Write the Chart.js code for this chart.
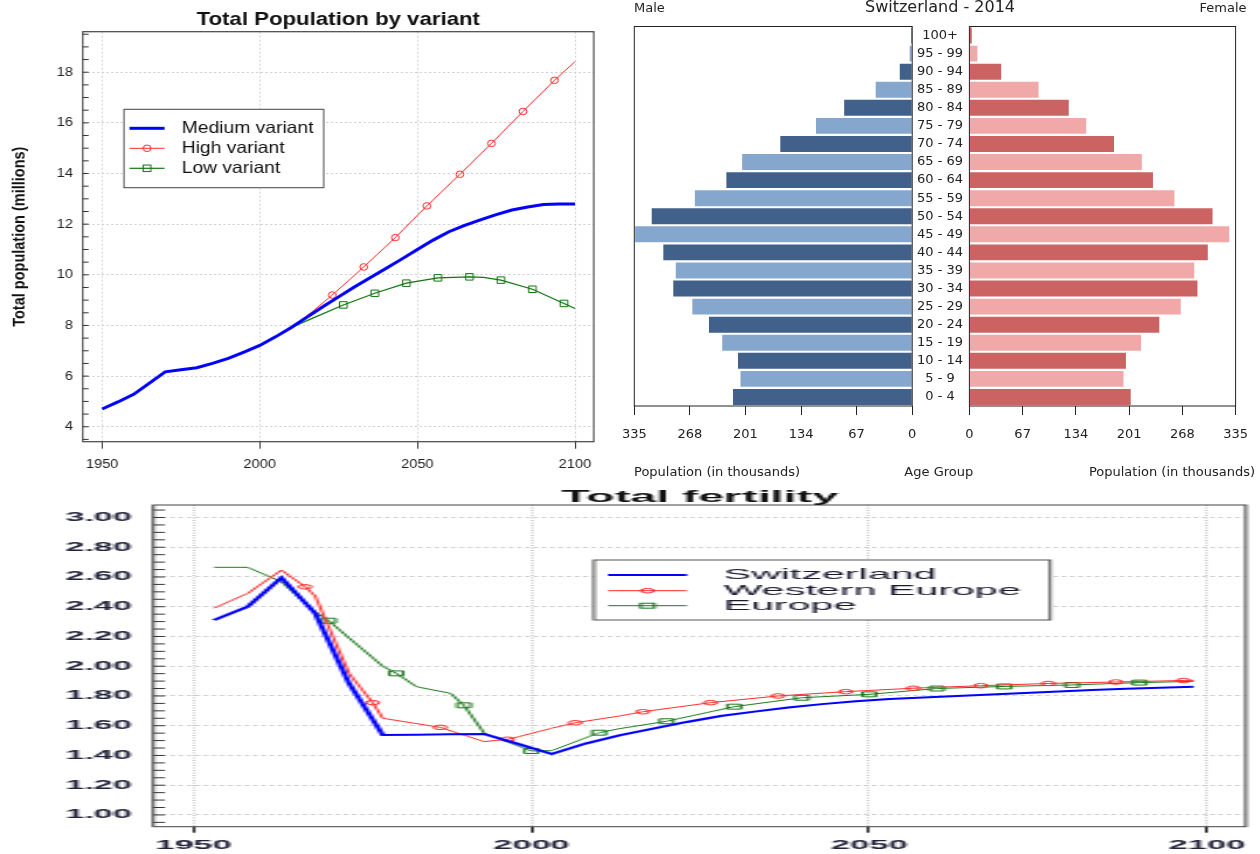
<!DOCTYPE html>
<html>
<head>
<meta charset="utf-8">
<title>Switzerland - population, age structure, fertility</title>
<script src="https://cdn.jsdelivr.net/npm/chart.js@4.4.1/dist/chart.umd.min.js"></script>
<style>
  html, body { margin: 0; padding: 0; background: #fff; }
  #page { position: relative; width: 1260px; height: 854px; overflow: hidden; }
  canvas { position: absolute; top: 0; left: 0; transform-origin: 0 0; }
  /* the source pictures are stretched sideways, so are these */
  #popChart { transform: scaleX(1.1686); }
  #maleChart { left: 620px; }
  #femaleChart { left: 840px; }
  #tfrChart { top: 480px; transform: scaleX(2.7511); }
</style>
</head>
<body>
<div id="page">
  <canvas id="popChart" width="522" height="480"></canvas>
  <canvas id="maleChart" width="320" height="480"></canvas>
  <canvas id="femaleChart" width="420" height="480"></canvas>
  <canvas id="tfrChart" width="458" height="374"></canvas>
</div>
<script>
/* ================================
   Data: total population (millions)
================================ */
const popXTicks = [1950, 2000, 2050, 2100];
const popYTicks = [4, 6, 8, 10, 12, 14, 16, 18];

const medYears = [1950, 1955, 1960, 1965, 1970, 1975, 1980, 1985, 1990, 1995, 2000, 2005, 2010,
  2015, 2020, 2025, 2030, 2035, 2040, 2045, 2050, 2055, 2060, 2065, 2070, 2075, 2080, 2085, 2090, 2095, 2100];
const medPop = [4.70, 4.98, 5.28, 5.72, 6.17, 6.25, 6.33, 6.50, 6.70, 6.95, 7.21, 7.55, 7.92,
  8.33, 8.74, 9.13, 9.52, 9.88, 10.25, 10.62, 11.00, 11.37, 11.70, 11.95, 12.17, 12.38, 12.56, 12.68, 12.78, 12.80, 12.80];

const highYears = [2010, 2017, 2023, 2033, 2043, 2053, 2063.5, 2073.5, 2083.5, 2093.5, 2100];
const highPop = [7.92, 8.58, 9.20, 10.31, 11.47, 12.72, 13.97, 15.19, 16.45, 17.68, 18.42];
const highMarks = [2023, 2033, 2043, 2053, 2063.5, 2073.5, 2083.5, 2093.5];

const lowYears = [2010, 2017, 2026.5, 2036.5, 2046.5, 2056.5, 2066.5, 2071, 2076.5, 2086.5, 2096.5, 2100];
const lowPop = [7.92, 8.30, 8.81, 9.27, 9.67, 9.88, 9.92, 9.90, 9.79, 9.43, 8.87, 8.67];
const lowMarks = [2026.5, 2036.5, 2046.5, 2056.5, 2066.5, 2076.5, 2086.5, 2096.5];

/* ================================
   Data: age pyramid 2014 (thousands)
================================ */
const ageGroups = ['0 - 4', '5 - 9', '10 - 14', '15 - 19', '20 - 24', '25 - 29', '30 - 34', '35 - 39',
  '40 - 44', '45 - 49', '50 - 54', '55 - 59', '60 - 64', '65 - 69', '70 - 74', '75 - 79', '80 - 84',
  '85 - 89', '90 - 94', '95 - 99', '100+'];
const maleK = [216, 207, 210, 229, 245, 265, 288, 285, 300, 334, 314, 262, 224, 205, 159, 116, 82, 44, 15, 3, 1.4];
const femaleK = [203, 194, 197, 216, 239, 266, 287, 283, 300, 327, 306, 258, 231, 217, 182, 147, 125, 87, 40, 10, 3];
const pyrTicks = [0, 67, 134, 201, 268, 335];

/* ================================
   Data: total fertility
================================ */
const tfrXTicks = [1950, 2000, 2050, 2100];
const tfrYTicks = [1.0, 1.2, 1.4, 1.6, 1.8, 2.0, 2.2, 2.4, 2.6, 2.8, 3.0];

const swissYears = [1953, 1958, 1963, 1968, 1973, 1978, 1983, 1988, 1993, 1998, 2003, 2008, 2013, 2018, 2023,
  2028, 2033, 2038, 2043, 2048, 2053, 2058, 2063, 2068, 2073, 2078, 2083, 2088, 2093, 2098];
const swissTfr = [2.31, 2.40, 2.595, 2.355, 1.885, 1.538, 1.54, 1.542, 1.545, 1.478, 1.41, 1.48, 1.535, 1.58, 1.625,
  1.665, 1.695, 1.722, 1.745, 1.765, 1.78, 1.79, 1.80, 1.81, 1.82, 1.83, 1.84, 1.848, 1.855, 1.862];

const westYears = [1953, 1958, 1963, 1966.5, 1968, 1973, 1976.5, 1978, 1986.5, 1993, 1996.5, 1998, 2003, 2006.5,
  2013, 2016.5, 2026.5, 2036.5, 2046.5, 2056.5, 2066.5, 2076.5, 2086.5, 2096.5, 2098];
const westTfr = [2.39, 2.49, 2.646, 2.534, 2.472, 1.952, 1.755, 1.65, 1.589, 1.493, 1.509, 1.525, 1.583, 1.62,
  1.665, 1.694, 1.755, 1.80, 1.829, 1.852, 1.869, 1.884, 1.894, 1.904, 1.905];
const westMarks = [1966.5, 1976.5, 1986.5, 1996.5, 2006.5, 2016.5, 2026.5, 2036.5, 2046.5, 2056.5, 2066.5,
  2076.5, 2086.5, 2096.5];

const euroYears = [1953, 1958, 1963, 1968, 1970, 1973, 1978, 1980, 1983, 1988, 1990, 1993, 2000, 2003, 2010,
  2013, 2020, 2030, 2040, 2050, 2060, 2070, 2080, 2090, 2098];
const euroTfr = [2.665, 2.665, 2.568, 2.365, 2.306, 2.19, 2.0, 1.952, 1.862, 1.818, 1.737, 1.55, 1.43, 1.432, 1.553,
  1.58, 1.63, 1.728, 1.788, 1.811, 1.85, 1.864, 1.874, 1.89, 1.898];
const euroMarks = [1970, 1980, 1990, 2000, 2010, 2020, 2030, 2040, 2050, 2060, 2070, 2080, 2090];

/* ================================
   Helpers
================================ */
const pairs = (xs, ys) => xs.map((x, i) => ({ x, y: ys[i] }));
const markAt = (marks, r) => c => (c.raw && marks.includes(c.raw.x) ? r : 0);
const steps = (from, to, step) => {
  const out = [];
  for (let i = 0; from + i * step <= to + 1e-9; i++) out.push(Math.round((from + i * step) * 100) / 100);
  return out;
};
const isMajor = (list, v) => list.some(t => Math.abs(t - v) < 1e-6);

Chart.defaults.font.family = "'Liberation Sans', Arial, sans-serif";
Chart.defaults.color = '#222';

/* ================================
   Plugins: frame, inner ticks, texts, boxed legend
================================ */
Chart.register({
  id: 'frame',
  afterDraw(chart, args, o) {
    if (!o.color) return;
    const { ctx, chartArea: a } = chart;
    ctx.save();
    ctx.strokeStyle = o.color;
    ctx.lineWidth = o.width || 1;
    ctx.strokeRect(a.left, a.top, a.right - a.left, a.bottom - a.top);
    ctx.restore();
  }
});

Chart.register({
  id: 'innerTicks',
  afterDraw(chart, args, o) {
    if (!o.len) return;
    const { ctx, chartArea: a } = chart;
    const s = chart.scales.y;
    ctx.save();
    ctx.strokeStyle = o.color;
    ctx.lineWidth = 1;
    ctx.beginPath();
    s.ticks.forEach(t => {
      const y = s.getPixelForValue(t.value);
      ctx.moveTo(a.left, y);
      ctx.lineTo(a.left + o.len, y);
    });
    ctx.stroke();
    ctx.restore();
  }
});

Chart.register({
  id: 'extraText',
  afterDraw(chart, args, o) {
    if (!o.items) return;
    const { ctx, chartArea: a } = chart;
    o.items.forEach(t => {
      ctx.save();
      ctx.font = t.font;
      ctx.fillStyle = t.color || '#222';
      ctx.textAlign = t.align || 'left';
      ctx.textBaseline = t.baseline || 'middle';
      const x = t.x === 'mid' ? (a.left + a.right) / 2 : t.x;
      ctx.fillText(t.text, x, t.y);
      ctx.restore();
    });
  }
});

Chart.register({
  id: 'boxLegend',
  afterDraw(chart, args, o) {
    if (!o.box) return;
    const ctx = chart.ctx;
    const [x1, y1, x2, y2] = o.box;
    ctx.save();
    ctx.fillStyle = '#fff';
    ctx.fillRect(x1, y1, x2 - x1, y2 - y1);
    ctx.strokeStyle = o.border;
    ctx.lineWidth = 1;
    ctx.strokeRect(x1, y1, x2 - x1, y2 - y1);
    ctx.font = o.font;
    ctx.textBaseline = 'middle';
    ctx.textAlign = 'left';
    chart.data.datasets.forEach((ds, i) => {
      const y = o.rows[i];
      const mx = (o.line[0] + o.line[1]) / 2;
      ctx.strokeStyle = ds.borderColor;
      ctx.lineWidth = ds.borderWidth;
      ctx.beginPath();
      ctx.moveTo(o.line[0], y);
      ctx.lineTo(o.line[1], y);
      ctx.stroke();
      ctx.lineWidth = 1;
      if (ds.pointStyle === 'circle') {
        ctx.beginPath();
        ctx.arc(mx, y, ds.markRadius, 0, Math.PI * 2);
        ctx.stroke();
      } else if (ds.pointStyle === 'rect') {
        const h = ds.markRadius * Math.SQRT1_2;
        ctx.strokeRect(mx - h, y - h, 2 * h, 2 * h);
      }
      ctx.fillStyle = o.color;
      ctx.fillText(ds.label, o.textX, y);
    });
    ctx.restore();
  }
});

/* ================================
   Chart: Total Population by variant
================================ */
new Chart(document.getElementById('popChart'), {
  type: 'line',
  data: {
    datasets: [{
      label: 'Medium variant',
      data: pairs(medYears, medPop),
      borderColor: '#0000ff',
      borderWidth: 3,
      pointRadius: 0
    }, {
      label: 'High variant',
      data: pairs(highYears, highPop),
      borderColor: '#ff2a2a',
      borderWidth: 1,
      pointStyle: 'circle',
      markRadius: 3.3,
      pointRadius: markAt(highMarks, 3.3),
      pointBorderColor: '#ff2a2a',
      pointBackgroundColor: 'rgba(0,0,0,0)',
      pointBorderWidth: 1
    }, {
      label: 'Low variant',
      data: pairs(lowYears, lowPop),
      borderColor: '#137513',
      borderWidth: 1.2,
      pointStyle: 'rect',
      markRadius: 4.6,
      pointRadius: markAt(lowMarks, 4.6),
      pointBorderColor: '#137513',
      pointBackgroundColor: 'rgba(0,0,0,0)',
      pointBorderWidth: 1
    }]
  },
  options: {
    responsive: false,
    animation: false,
    devicePixelRatio: 1,
    events: [],
    layout: { padding: { top: 31.7, right: 13.9, left: 0, bottom: 0 } },
    scales: {
      x: {
        type: 'linear',
        min: 1943.85,
        max: 2105.96,
        afterBuildTicks: s => { s.ticks = popXTicks.map(v => ({ value: v })); },
        afterFit: s => { s.height = 38.3; },
        ticks: { padding: 8.8, color: '#222', font: { size: 12.5 }, autoSkip: false, maxRotation: 0, callback: v => String(v) },
        grid: { color: '#d2d2d2', tickColor: '#333', tickLength: 7, tickBorderDash: [] },
        border: { display: false, dash: [2, 2] }
      },
      y: {
        type: 'linear',
        min: 3.41,
        max: 19.6,
        afterBuildTicks: s => { s.ticks = steps(3.5, 19.5, 0.5).map(v => ({ value: v })); },
        afterFit: s => { s.width = 70.8; },
        ticks: { padding: 8.4, color: '#222', font: { size: 12.5 }, autoSkip: false, callback: v => (popYTicks.includes(v) ? String(v) : '') },
        grid: { drawTicks: false, color: c => (c.tick && popYTicks.includes(c.tick.value) ? '#d2d2d2' : 'rgba(0,0,0,0)') },
        border: { display: false, dash: [2, 2] },
        title: {
          display: true,
          text: 'Total population (millions)',
          color: '#111',
          font: { size: 14.5, weight: 'bold' },
          padding: { top: 8.7, bottom: 0 }
        }
      }
    },
    plugins: {
      legend: { display: false },
      tooltip: { enabled: false },
      frame: { color: '#444', width: 1.2 },
      innerTicks: { len: 5, color: '#333' },
      extraText: {
        items: [{ text: 'Total Population by variant', x: 'mid', y: 25, align: 'center', baseline: 'alphabetic',
          font: "bold 19px 'Liberation Sans', Arial, sans-serif", color: '#111' }]
      },
      boxLegend: {
        box: [106.1, 109.3, 277, 187.7],
        line: [110.8, 140.8],
        rows: [128.3, 148.3, 168.3],
        textX: 155.5,
        font: "16.5px 'Liberation Sans', Arial, sans-serif",
        color: '#111',
        border: '#444'
      }
    }
  }
});

/* ================================
   Chart: Age pyramid (two halves)
================================ */
const pyrFont = { family: "'DejaVu Sans', sans-serif", size: 13 };
const pyrTextFont = "13px 'DejaVu Sans', sans-serif";
const shade = (dark, light) => ageGroups.map((_, i) => (i % 2 ? light : dark));

function pyramidX(sign, extra) {
  return Object.assign({
    type: 'linear',
    afterBuildTicks: s => { s.ticks = pyrTicks.map(v => ({ value: sign * v })); },
    afterFit: s => { s.height = 74; },
    ticks: { padding: 12, font: pyrFont, color: '#222', autoSkip: false, maxRotation: 0, callback: v => String(Math.abs(v)) },
    grid: { drawOnChartArea: false, tickLength: 9, tickColor: '#222' },
    border: { display: false }
  }, extra);
}

new Chart(document.getElementById('maleChart'), {
  type: 'bar',
  data: {
    labels: ageGroups,
    datasets: [{
      data: maleK.map(v => -v),
      backgroundColor: shade('#41608a', '#86a7cd'),
      borderWidth: 0,
      barPercentage: 0.88,
      categoryPercentage: 1
    }]
  },
  options: {
    indexAxis: 'y',
    responsive: false,
    animation: false,
    devicePixelRatio: 1,
    events: [],
    layout: { padding: { top: 26.5, left: 14.3, right: 27.8, bottom: 0 } },
    scales: {
      x: pyramidX(-1, { min: -335, max: 0 }),
      y: { display: false, reverse: true }
    },
    plugins: {
      legend: { display: false },
      tooltip: { enabled: false },
      frame: { color: '#222', width: 1 },
      extraText: {
        items: [
          { text: 'Male', x: 14, y: 8.5, font: pyrTextFont },
          { text: 'Population (in thousands)', x: 14, y: 473, font: pyrTextFont }
        ]
      }
    }
  }
});

new Chart(document.getElementById('femaleChart'), {
  type: 'bar',
  data: {
    labels: ageGroups,
    datasets: [{
      data: femaleK,
      backgroundColor: shade('#cb6363', '#f1a8a8'),
      borderWidth: 0,
      barPercentage: 0.88,
      categoryPercentage: 1
    }]
  },
  options: {
    indexAxis: 'y',
    responsive: false,
    animation: false,
    devicePixelRatio: 1,
    events: [],
    layout: { padding: { top: 26.5, left: 0, right: 12.2, bottom: 0 } },
    scales: {
      x: pyramidX(1, { min: 0, max: 335 }),
      y: {
        reverse: true,
        position: 'left',
        afterFit: s => { s.width = 129.4; },
        ticks: { crossAlign: 'center', padding: 6.4, font: pyrFont, color: '#222', autoSkip: false },
        grid: { drawOnChartArea: false, drawTicks: false },
        border: { display: false }
      }
    },
    plugins: {
      legend: { display: false },
      tooltip: { enabled: false },
      frame: { color: '#222', width: 1 },
      extraText: {
        items: [
          { text: 'Switzerland - 2014', x: 100, y: 8, align: 'center', font: "16px 'DejaVu Sans', sans-serif" },
          { text: 'Female', x: 406.5, y: 8.5, align: 'right', font: pyrTextFont },
          { text: 'Age Group', x: 98.8, y: 473, align: 'center', font: pyrTextFont },
          { text: 'Population (in thousands)', x: 415, y: 473, align: 'right', font: pyrTextFont }
        ]
      }
    }
  }
});

/* ================================
   Chart: Total fertility
================================ */
new Chart(document.getElementById('tfrChart'), {
  type: 'line',
  data: {
    datasets: [{
      label: 'Switzerland',
      data: pairs(swissYears, swissTfr),
      borderColor: '#0000ff',
      borderWidth: 2,
      pointRadius: 0
    }, {
      label: 'Western Europe',
      data: pairs(westYears, westTfr),
      borderColor: '#ff2b2b',
      borderWidth: 1,
      pointStyle: 'circle',
      markRadius: 2.3,
      pointRadius: markAt(westMarks, 2.3),
      pointBorderColor: '#ff2b2b',
      pointBackgroundColor: 'rgba(0,0,0,0)',
      pointBorderWidth: 1
    }, {
      label: 'Europe',
      data: pairs(euroYears, euroTfr),
      borderColor: '#1d7a1d',
      borderWidth: 1,
      pointStyle: 'rect',
      markRadius: 3.5,
      pointRadius: markAt(euroMarks, 3.5),
      pointBorderColor: '#1d7a1d',
      pointBackgroundColor: 'rgba(0,0,0,0)',
      pointBorderWidth: 1
    }]
  },
  options: {
    responsive: false,
    animation: false,
    devicePixelRatio: 1,
    events: [],
    layout: { padding: { top: 25, right: 0.73, left: 0, bottom: 0 } },
    scales: {
      x: {
        type: 'linear',
        min: 1944.04,
        max: 2105.74,
        afterBuildTicks: s => { s.ticks = tfrXTicks.map(v => ({ value: v })); },
        afterFit: s => { s.height = 27.3; },
        ticks: { padding: 5.3, color: '#22223a', font: { size: 12.5, weight: 'bold' }, autoSkip: false, maxRotation: 0, callback: v => String(v) },
        grid: { color: '#c8c8c8', tickColor: '#222', tickLength: 6, tickBorderDash: [] },
        border: { display: false, dash: [1, 1.5] }
      },
      y: {
        type: 'linear',
        min: 0.921,
        max: 3.084,
        afterBuildTicks: s => { s.ticks = steps(0.95, 3.05, 0.05).map(v => ({ value: v })); },
        afterFit: s => { s.width = 55.72; },
        ticks: { padding: 7.7, color: '#22223a', font: { size: 12.5, weight: 'bold' }, autoSkip: false, callback: v => (isMajor(tfrYTicks, v) ? v.toFixed(2) : '') },
        grid: { drawTicks: false, color: c => (c.tick && isMajor(tfrYTicks, c.tick.value) ? '#c8c8c8' : 'rgba(0,0,0,0)') },
        border: { display: false, dash: [1.5, 1.5] }
      }
    },
    plugins: {
      legend: { display: false },
      tooltip: { enabled: false },
      frame: { color: '#444', width: 1 },
      innerTicks: { len: 4.2, color: '#333' },
      extraText: {
        items: [{ text: 'Total fertility', x: 'mid', y: 21.7, align: 'center', baseline: 'alphabetic',
          font: "bold 17px 'Liberation Sans', Arial, sans-serif", color: '#111' }]
      },
      boxLegend: {
        box: [215.9, 80, 381.7, 140],
        line: [221, 249.7],
        rows: [95, 110.7, 125.7],
        textX: 262.9,
        font: "15px 'Liberation Sans', Arial, sans-serif",
        color: '#1a1a2e',
        border: '#555'
      }
    }
  }
});
</script>
</body>
</html>
